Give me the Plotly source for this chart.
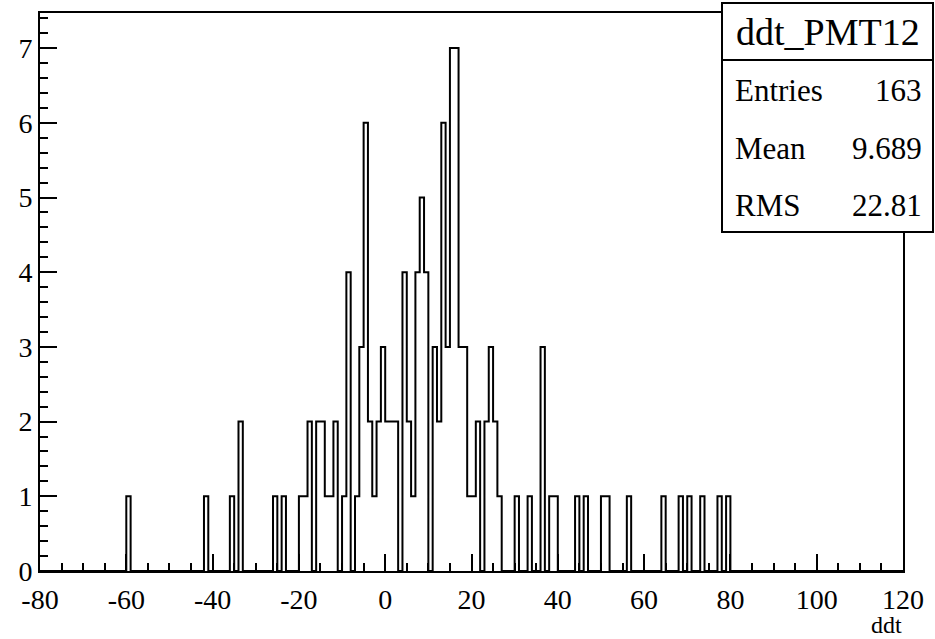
import numpy as np
import plotly.graph_objects as go

# ---- data ----
hist_title = "ddt_PMT12"
x_title = "ddt"
x_min, x_max, bin_width = -80, 120, 1
bin_low = [-60, -42, -36, -34, -26, -24,
           -20, -19, -18, -16, -15, -14, -13, -12, -10, -9,
           -7, -6, -5, -4, -3, -2, -1, 0, 1, 2,
           4, 5, 6, 7, 8, 9,
           11, 12, 13, 14,
           15, 16, 17, 18, 19, 20, 21,
           23, 24, 25, 26,
           30, 33, 36, 38, 39,
           44, 46, 50, 51, 56,
           64, 68, 70, 73, 77, 79]
counts = [1, 1, 1, 2, 1, 1,
          1, 1, 2, 2, 2, 1, 1, 2, 1, 4,
          1, 3, 6, 2, 1, 2, 3, 2, 2, 2,
          4, 2, 1, 4, 5, 4,
          3, 2, 6, 3,
          7, 7, 3, 3, 1, 1, 2,
          2, 3, 2, 1,
          1, 1, 3, 1, 1,
          1, 1, 1, 1, 1,
          1, 1, 1, 1, 1, 1]
stat_labels = ["Entries", "Mean", "RMS"]
stat_values = ["163", "9.689", "22.81"]
x_tick_vals = [-80, -60, -40, -20, 0, 20, 40, 60, 80, 100, 120]
x_tick_text = ["-80", "-60", "-40", "-20", "0", "20", "40", "60", "80", "100", "120"]
y_tick_vals = [0, 1, 2, 3, 4, 5, 6, 7]
y_max = 7.47

# ---- build histogram contour ----
edges = np.arange(x_min, x_max + bin_width, bin_width)
full = np.zeros(len(edges) - 1)
for lo, c in zip(bin_low, counts):
    full[int(round((lo - x_min) / bin_width))] = c
xs = [x_min] + list(edges) + [x_max]
ys = [0] + list(full) + [full[-1]] + [0]

W, H = 935, 639
L, R, T, B = 40, 32, 13, 68
pw, ph = W - L - R, H - T - B

def px(x):
    return (x - L) / pw

def py(y):
    return (H - B - y) / ph

FONT = "Liberation Serif"

fig = go.Figure()
fig.add_trace(go.Scatter(x=xs, y=ys, mode="lines", line=dict(color="black", width=2, shape="hv"),
                         hoverinfo="skip", showlegend=False))

fig.update_layout(
    width=W, height=H, margin=dict(l=L, r=R, t=T, b=B, pad=0),
    paper_bgcolor="white", plot_bgcolor="white",
    xaxis=dict(range=[x_min, x_max], tickvals=x_tick_vals, ticktext=x_tick_text,
               ticks="inside", ticklen=17, tickwidth=2, ticklabelstandoff=2,
               tickcolor="black", showline=True, linecolor="black", linewidth=2, mirror=True,
               showgrid=False, zeroline=False,
               tickfont=dict(family=FONT, size=28, color="black"),
               minor=dict(dtick=5, ticks="inside", ticklen=8, tickwidth=2, tickcolor="black", showgrid=False)),
    yaxis=dict(range=[0, y_max], tickvals=y_tick_vals, ticks="inside", ticklen=17, tickwidth=2,
               tickcolor="black", showline=True, linecolor="black", linewidth=2, mirror=True,
               showgrid=False, zeroline=False,
               tickfont=dict(family=FONT, size=28, color="black"),
               minor=dict(dtick=0.2, ticks="inside", ticklen=8, tickwidth=2, tickcolor="black", showgrid=False)),
)

# axis title
fig.add_annotation(x=1, y=py(639), xref="paper", yref="paper", text=x_title, showarrow=False,
                   xanchor="right", yanchor="bottom", borderpad=0,
                   font=dict(family=FONT, size=24, color="black"))

# stats box
bx0, bx1, by0, by1 = 722, 933, 3, 232
fig.add_shape(type="rect", xref="paper", yref="paper", x0=px(bx0), x1=px(bx1), y0=py(by1), y1=py(by0),
              fillcolor="white", line=dict(color="black", width=2), layer="above")
fig.add_shape(type="line", xref="paper", yref="paper", x0=px(bx0), x1=px(bx1), y0=py(60), y1=py(60),
              line=dict(color="black", width=2), layer="above")
fig.add_annotation(x=px((bx0 + bx1) / 2), y=py(32), xref="paper", yref="paper", text=hist_title,
                   showarrow=False, xanchor="center", yanchor="middle",
                   font=dict(family=FONT, size=38, color="black"))
row_y = [91, 149, 205]
for lab, val, ry in zip(stat_labels, stat_values, row_y):
    fig.add_annotation(x=px(733), y=py(ry), xref="paper", yref="paper", text=lab, showarrow=False,
                       xanchor="left", yanchor="middle", font=dict(family=FONT, size=31, color="black"))
    fig.add_annotation(x=px(924), y=py(ry), xref="paper", yref="paper", text=val, showarrow=False,
                       xanchor="right", yanchor="middle", font=dict(family=FONT, size=31, color="black"))

fig.write_html("out.html")
